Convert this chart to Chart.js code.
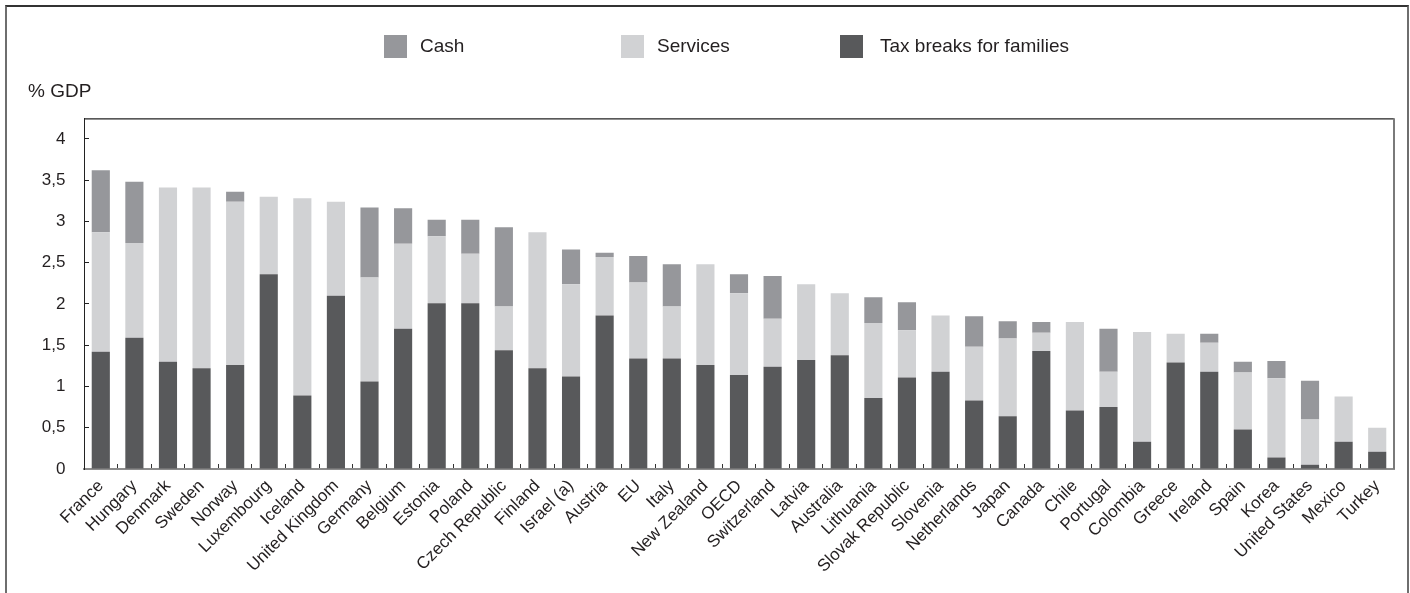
<!DOCTYPE html>
<html>
<head>
<meta charset="utf-8">
<script src="https://cdn.jsdelivr.net/npm/chart.js@4.4.1/dist/chart.umd.min.js"></script>
<style>
  html, body { margin: 0; padding: 0; background: #fff; }
  #wrap { position: relative; width: 1410px; height: 593px; }
  #frame {
    position: absolute; left: 5px; top: 5px; width: 1400px; height: 600px;
    border: 2px solid #6e6e6e; border-top-color: #333; border-bottom: none;
    pointer-events: none;
  }
</style>
</head>
<body>
<div id="wrap">
  <canvas id="chart" width="1410" height="593"></canvas>
  <div id="frame"></div>
</div>
<script>
const countries = ['France', 'Hungary', 'Denmark', 'Sweden', 'Norway', 'Luxembourg', 'Iceland',
    'United Kingdom', 'Germany', 'Belgium', 'Estonia', 'Poland', 'Czech Republic', 'Finland',
    'Israel (a)', 'Austria', 'EU', 'Italy', 'New Zealand', 'OECD', 'Switzerland', 'Latvia',
    'Australia', 'Lithuania', 'Slovak Republic', 'Slovenia', 'Netherlands', 'Japan', 'Canada',
    'Chile', 'Portugal', 'Colombia', 'Greece', 'Ireland', 'Spain', 'Korea', 'United States',
    'Mexico', 'Turkey'];

// % of GDP
const taxBreaks = [1.42, 1.59, 1.30, 1.22, 1.26, 2.36, 0.89, 2.10, 1.06, 1.70, 2.01, 2.01, 1.44, 1.22,
    1.12, 1.86, 1.34, 1.34, 1.26, 1.14, 1.24, 1.32, 1.38, 0.86, 1.11, 1.18, 0.83, 0.64, 1.43,
    0.71, 0.75, 0.33, 1.29, 1.18, 0.48, 0.14, 0.05, 0.33, 0.21];
const services = [1.45, 1.15, 2.11, 2.19, 1.98, 0.94, 2.39, 1.14, 1.26, 1.03, 0.81, 0.60, 0.53, 1.65,
    1.12, 0.71, 0.92, 0.63, 1.22, 0.99, 0.58, 0.92, 0.75, 0.91, 0.57, 0.68, 0.65, 0.94, 0.22,
    1.07, 0.43, 1.33, 0.35, 0.35, 0.69, 0.96, 0.55, 0.55, 0.29];
const cash = [0.75, 0.74, 0, 0, 0.12, 0, 0, 0, 0.85, 0.43, 0.20, 0.41, 0.96, 0,
    0.42, 0.05, 0.32, 0.51, 0, 0.23, 0.52, 0, 0, 0.31, 0.34, 0, 0.37, 0.21, 0.13,
    0, 0.52, 0, 0, 0.11, 0.13, 0.21, 0.47, 0, 0];

const yTicks = [0, 0.5, 1, 1.5, 2, 2.5, 3, 3.5, 4];

const FONT = "'Liberation Sans', Arial, Helvetica, sans-serif";
const TEXT = '#231f20';

// legend drawn in fixed columns like the original
const columnLegend = {
    id: 'columnLegend',
    afterDraw(chart, args, opts) {
        const ctx = chart.ctx;
        const order = [2, 1, 0];
        ctx.save();
        ctx.font = '19px ' + FONT;
        ctx.textBaseline = 'middle';
        ctx.textAlign = 'left';
        order.forEach((di, i) => {
            const ds = chart.data.datasets[di];
            const x = opts.xs[i];
            ctx.fillStyle = ds.backgroundColor;
            ctx.fillRect(x, opts.y, 23, 23);
            ctx.fillStyle = TEXT;
            ctx.fillText(ds.label, x + opts.gap[i], opts.y + 12);
        });
        ctx.restore();
    }
};

// top and right edge of the plot box
const plotFrame = {
    id: 'plotFrame',
    afterDatasetsDraw(chart) {
        const { ctx, chartArea: a } = chart;
        ctx.save();
        ctx.strokeStyle = '#222';
        ctx.lineWidth = 1.2;
        ctx.beginPath();
        ctx.moveTo(a.left, a.top + 0.5);
        ctx.lineTo(a.right, a.top + 0.5);
        ctx.stroke();
        ctx.strokeStyle = '#7a7a7a';
        ctx.lineWidth = 2;
        ctx.beginPath();
        ctx.moveTo(a.right, a.top);
        ctx.lineTo(a.right, a.bottom);
        ctx.stroke();
        ctx.restore();
    }
};

new Chart(document.getElementById('chart'), {
    type: 'bar',
    data: {
        labels: countries,
        datasets: [
            { label: 'Tax breaks for families', data: taxBreaks, backgroundColor: '#58595b' },
            { label: 'Services', data: services, backgroundColor: '#d1d2d4' },
            { label: 'Cash', data: cash, backgroundColor: '#96979b' }
        ]
    },
    options: {
        responsive: false,
        animation: false,
        devicePixelRatio: 1,
        layout: { padding: { left: 28, right: 16, top: 0, bottom: 0 } },
        datasets: {
            bar: { categoryPercentage: 1, barPercentage: 0.54, borderWidth: 0 }
        },
        plugins: {
            legend: { display: false },
            tooltip: { enabled: false },
            title: {
                display: true,
                text: '% GDP',
                align: 'start',
                color: TEXT,
                font: { family: FONT, size: 19, weight: 'normal' },
                padding: { top: 80, bottom: 15.5 }
            },
            columnLegend: { xs: [384, 621, 840], y: 35, gap: [36, 36, 40] }
        },
        scales: {
            x: {
                stacked: true,
                afterFit: (s) => { s.height = 124; },
                grid: {
                    display: true,
                    drawOnChartArea: false,
                    tickLength: -5,
                    color: '#333',
                    lineWidth: 1
                },
                border: { display: true, color: '#8c8c8c', width: 2 },
                ticks: {
                    autoSkip: false,
                    maxRotation: 45,
                    minRotation: 45,
                    padding: 12,
                    color: TEXT,
                    font: { family: FONT, size: 17 }
                }
            },
            y: {
                stacked: true,
                min: 0,
                max: 4.25,
                afterFit: (s) => { s.width = 56; },
                afterBuildTicks: (s) => { s.ticks = yTicks.map(v => ({ value: v })); },
                grid: {
                    display: true,
                    drawOnChartArea: false,
                    tickLength: -5,
                    color: '#222',
                    lineWidth: 1
                },
                border: { display: true, color: '#222', width: 1 },
                ticks: {
                    padding: 23.5,
                    color: TEXT,
                    font: { family: FONT, size: 17 },
                    callback: (v) => String(v).replace('.', ',')
                }
            }
        }
    },
    plugins: [columnLegend, plotFrame]
});
</script>
</body>
</html>
